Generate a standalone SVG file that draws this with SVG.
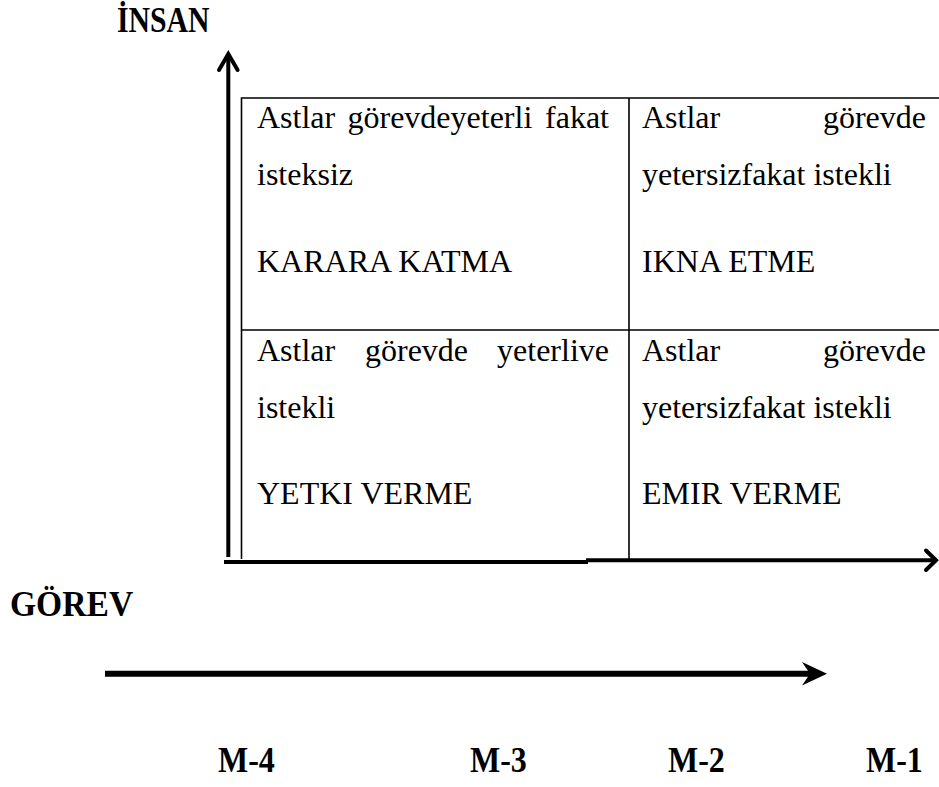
<svg xmlns="http://www.w3.org/2000/svg" width="939" height="787" viewBox="0 0 939 787">
  <style>
    .cell { font-family: "Liberation Serif", "Times New Roman", serif; font-size: 32px; fill: #000; }
    .lbl { font-family: "Liberation Serif", "Times New Roman", serif; font-size: 32px; font-weight: bold; fill: #000; }
    .grid { fill: none; stroke: #000; stroke-width: 1.6; }
    .axis { fill: none; stroke: #000; stroke-width: 4; stroke-linecap: butt; }
    .head { fill: none; stroke: #000; stroke-width: 4; stroke-linecap: round; stroke-linejoin: miter; }
  </style>
  <rect width="939" height="787" fill="#fff"/>

  <!-- 2x2 matrix table -->
  <g id="table">
    <path class="grid" d="M241.5,559 V98 H945 M629,98 V559 M241.5,330 H945"/>
  </g>

  <g id="cell-top-left">
    <text class="cell" y="128"><tspan x="257">Astlar</tspan><tspan x="347.5">görevdeyeterli</tspan><tspan x="609" text-anchor="end">fakat</tspan></text>
    <text class="cell" x="257" y="185">isteksiz</text>
    <text class="cell" x="257" y="272">KARARA KATMA</text>
  </g>

  <g id="cell-top-right">
    <text class="cell" y="128"><tspan x="642">Astlar</tspan><tspan x="926" text-anchor="end">görevde</tspan></text>
    <text class="cell" x="642" y="185">yetersizfakat istekli</text>
    <text class="cell" x="642" y="272">IKNA ETME</text>
  </g>

  <g id="cell-bottom-left">
    <text class="cell" y="361"><tspan x="257">Astlar</tspan><tspan x="365">görevde</tspan><tspan x="609" text-anchor="end">yeterlive</tspan></text>
    <text class="cell" x="257" y="418">istekli</text>
    <text class="cell" x="257" y="504">YETKI VERME</text>
  </g>

  <g id="cell-bottom-right">
    <text class="cell" y="361"><tspan x="642">Astlar</tspan><tspan x="926" text-anchor="end">görevde</tspan></text>
    <text class="cell" x="642" y="418">yetersizfakat istekli</text>
    <text class="cell" x="642" y="504">EMIR VERME</text>
  </g>

  <!-- axis titles (slightly tall lettering) -->
  <g id="label-insan"><text class="lbl" transform="translate(117,32) scale(0.93,1.15)">İNSAN</text></g>
  <g id="label-gorev"><text class="lbl" transform="translate(10,616) scale(1.05,1.15)">GÖREV</text></g>

  <!-- maturity scale -->
  <g id="label-m4"><text class="lbl" transform="translate(218,772) scale(1,1.15)">M-4</text></g>
  <g id="label-m3"><text class="lbl" transform="translate(470,772) scale(1,1.15)">M-3</text></g>
  <g id="label-m2"><text class="lbl" transform="translate(668,772) scale(1,1.15)">M-2</text></g>
  <g id="label-m1"><text class="lbl" transform="translate(866,772) scale(1,1.15)">M-1</text></g>

  <g id="connectors">
    <!-- vertical axis (İNSAN) -->
    <line class="axis" x1="228.3" y1="557" x2="228.3" y2="55"/>
    <polyline class="head" points="219,70 228.3,54 237.6,70"/>
    <!-- horizontal axis (GÖREV) -->
    <line class="axis" x1="224" y1="562" x2="588" y2="562"/>
    <line class="axis" x1="586" y1="560.3" x2="934" y2="560.3"/>
    <polyline class="head" points="926,550.5 936,560.3 926,570"/>
    <!-- maturity arrow -->
    <line x1="105" y1="673.7" x2="810" y2="673.7" stroke="#000" stroke-width="6"/>
    <polygon points="802,662 827,673.7 802,685.5 810,673.7" fill="#000"/>
  </g>
</svg>
